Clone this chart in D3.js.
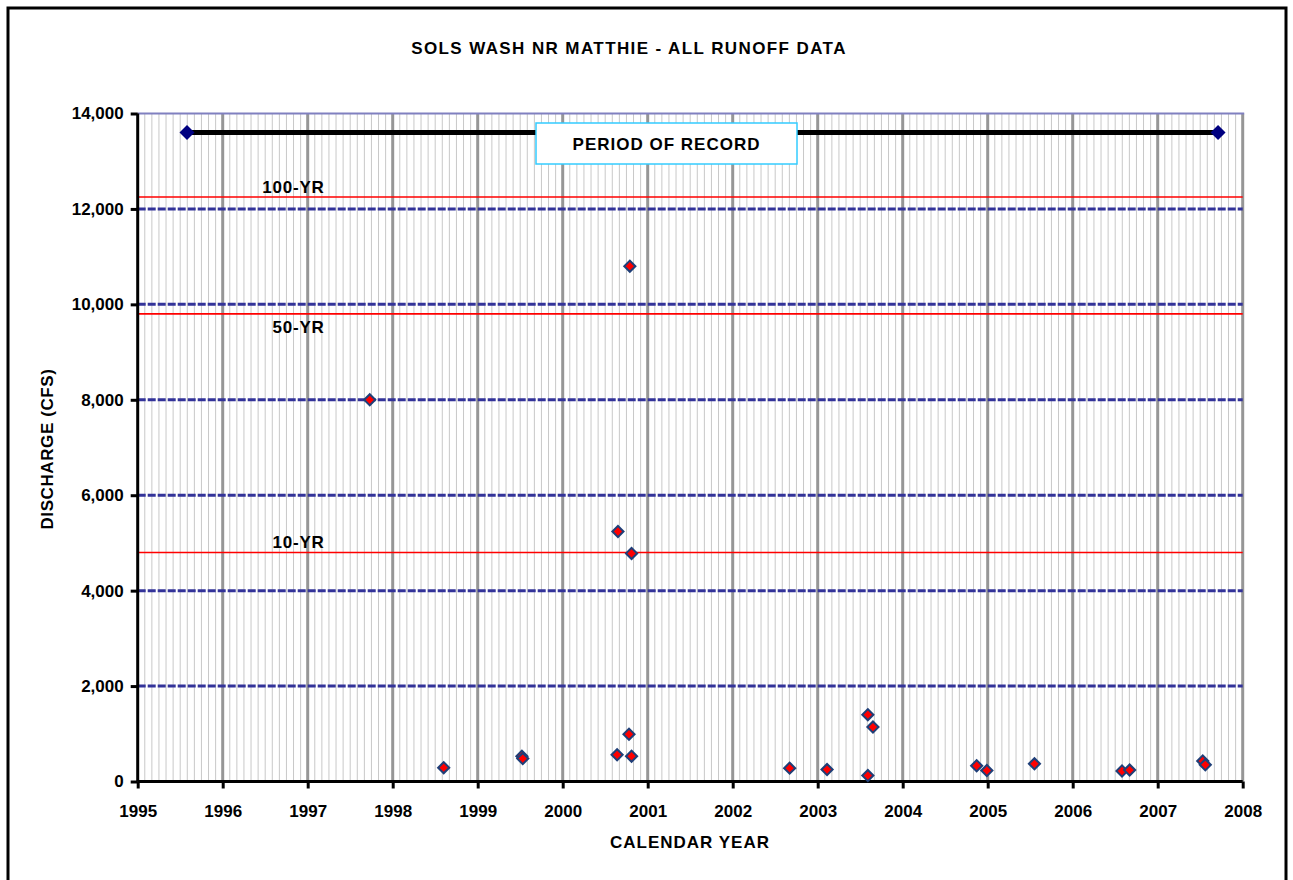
<!DOCTYPE html>
<html>
<head>
<meta charset="utf-8">
<script src="https://cdn.jsdelivr.net/npm/d3@7"></script>
<style>
  html, body { margin: 0; padding: 0; background: #fff; }
  svg { display: block; font-family: "Liberation Sans", Arial, sans-serif; }
</style>
</head>
<body>
<svg id="chart" width="1293" height="880"></svg>
<script>
// ---- data ----
const title = "SOLS WASH NR MATTHIE - ALL RUNOFF DATA";
const xTitle = "CALENDAR YEAR";
const yTitle = "DISCHARGE (CFS)";
const yearTicks = [1995, 1996, 1997, 1998, 1999, 2000, 2001, 2002, 2003, 2004, 2005, 2006, 2007, 2008];
const yTicks = [0, 2000, 4000, 6000, 8000, 10000, 12000, 14000];
// runoff events: decimal year, discharge (cfs)
const eventYears = [1997.73, 1998.60, 1999.52, 1999.53, 2000.64, 2000.65, 2000.78, 2000.79, 2000.81, 2000.81,
                    2002.67, 2003.11, 2003.59, 2003.65, 2003.59, 2004.87, 2004.99, 2005.55,
                    2006.58, 2006.67, 2007.53, 2007.56];
const eventQ     = [8000, 290, 530, 480, 560, 5240, 990, 10800, 4780, 530,
                    280, 250, 1400, 1140, 125, 330, 230, 370,
                    220, 240, 430, 350];
// flood-frequency reference levels
const freqLabels = ["100-YR", "50-YR", "10-YR"];
const freqQ      = [12250, 9800, 4800];
// period of record
const periodStart = 1995.58, periodEnd = 2007.71, periodLevel = 13600;
const periodLabel = "PERIOD OF RECORD";

// ---- layout ----
const svg = d3.select("#chart");
const x = d3.scaleLinear().domain([1995, 2008]).range([137.7, 1242.7]);
const y = d3.scaleLinear().domain([0, 14000]).range([781.5, 113.5]);

// outer border
svg.append("rect").attr("x", 8).attr("y", 8).attr("width", 1278).attr("height", 880)
  .attr("fill", "none").attr("stroke", "#000").attr("stroke-width", 3);

// monthly minor grid
const months = d3.range(0, 13 * 12).filter(m => m % 12 !== 0).map(m => 1995 + m / 12);
svg.append("g").selectAll("line").data(months).join("line")
  .attr("x1", d => x(d)).attr("x2", d => x(d))
  .attr("y1", y(14000)).attr("y2", y(0))
  .attr("stroke", "#c8c8c8").attr("stroke-width", 1);

// year grid
svg.append("g").selectAll("line").data(yearTicks.slice(1)).join("line")
  .attr("x1", d => x(d)).attr("x2", d => x(d))
  .attr("y1", y(14000)).attr("y2", y(0))
  .attr("stroke", "#969696").attr("stroke-width", 3);

// horizontal dashed grid
svg.append("g").selectAll("line").data(yTicks.filter(v => v > 0 && v < 14000)).join("line")
  .attr("x1", x(1995)).attr("x2", x(2008))
  .attr("y1", d => y(d)).attr("y2", d => y(d))
  .attr("stroke", "#333399").attr("stroke-width", 3).attr("stroke-dasharray", "8,2");
svg.append("line")
  .attr("x1", x(1995)).attr("x2", x(2008) + 1.5)
  .attr("y1", y(14000)).attr("y2", y(14000))
  .attr("stroke", "#8080c0").attr("stroke-width", 2);

// flood-frequency lines
svg.append("g").selectAll("line").data(freqQ).join("line")
  .attr("x1", x(1995)).attr("x2", x(2008))
  .attr("y1", d => y(d)).attr("y2", d => y(d))
  .attr("stroke", "#ff0000").attr("stroke-width", 1.6);
const labelOffsets = [-4, 19, -4];
svg.append("g").selectAll("text").data(freqLabels).join("text")
  .attr("x", x(1997.2))
  .attr("y", (d, i) => y(freqQ[i]) + labelOffsets[i])
  .attr("text-anchor", "end")
  .attr("font-size", 17).attr("font-weight", "bold").attr("letter-spacing", 0.8)
  .text(d => d);

// axes
const xAxis = svg.append("g").attr("transform", `translate(0,${y(0)})`)
  .call(d3.axisBottom(x).tickValues(yearTicks).tickFormat(d3.format("d")).tickSize(7).tickPadding(16));
const yAxis = svg.append("g").attr("transform", `translate(${x(1995)},0)`)
  .call(d3.axisLeft(y).tickValues(yTicks).tickFormat(d3.format(",")).tickSize(7).tickPadding(7));
[xAxis, yAxis].forEach(g => {
  g.select(".domain").attr("stroke", "#000").attr("stroke-width", 3);
  g.selectAll(".tick line").attr("stroke", "#000").attr("stroke-width", 3);
  g.selectAll(".tick text").attr("font-size", 17).attr("font-weight", "bold")
    .attr("fill", "#000").attr("font-family", "Liberation Sans, Arial, sans-serif");
});
xAxis.select(".domain").attr("d", `M${x(1995)},0H${x(2008)}`);
yAxis.select(".domain").attr("d", `M0,${y(0)}V${y(14000)}`);

// period of record
svg.append("line")
  .attr("x1", x(periodStart)).attr("x2", x(periodEnd))
  .attr("y1", y(periodLevel)).attr("y2", y(periodLevel))
  .attr("stroke", "#000").attr("stroke-width", 5);
svg.append("g").selectAll("path").data([periodStart, periodEnd]).join("path")
  .attr("d", d3.symbol(d3.symbolSquare, 112)())
  .attr("transform", d => `translate(${x(d)},${y(periodLevel)}) rotate(45)`)
  .attr("fill", "#000080");
svg.append("rect").attr("x", 536).attr("y", 123).attr("width", 261).attr("height", 41)
  .attr("fill", "#fff").attr("stroke", "#33ccff").attr("stroke-width", 1.5);
svg.append("text").attr("x", 666.5).attr("y", 149.5).attr("text-anchor", "middle")
  .attr("font-size", 17).attr("font-weight", "bold").attr("letter-spacing", 1)
  .text(periodLabel);

// event points
svg.append("g").selectAll("path").data(eventYears).join("path")
  .attr("d", d3.symbol(d3.symbolSquare, 62)())
  .attr("transform", (d, i) => `translate(${x(d)},${y(eventQ[i])}) rotate(45)`)
  .attr("fill", "#ff0000").attr("stroke", "#1f3f78").attr("stroke-width", 2);

// titles
svg.append("text").attr("x", 629).attr("y", 54).attr("text-anchor", "middle")
  .attr("font-size", 17).attr("font-weight", "bold").attr("letter-spacing", 1.4).text(title);
svg.append("text").attr("x", 690).attr("y", 848).attr("text-anchor", "middle")
  .attr("font-size", 17).attr("font-weight", "bold").attr("letter-spacing", 1).text(xTitle);
svg.append("text").attr("transform", "translate(53,449) rotate(-90)").attr("text-anchor", "middle")
  .attr("font-size", 17).attr("font-weight", "bold").attr("letter-spacing", 0.6).text(yTitle);
</script>
</body>
</html>
